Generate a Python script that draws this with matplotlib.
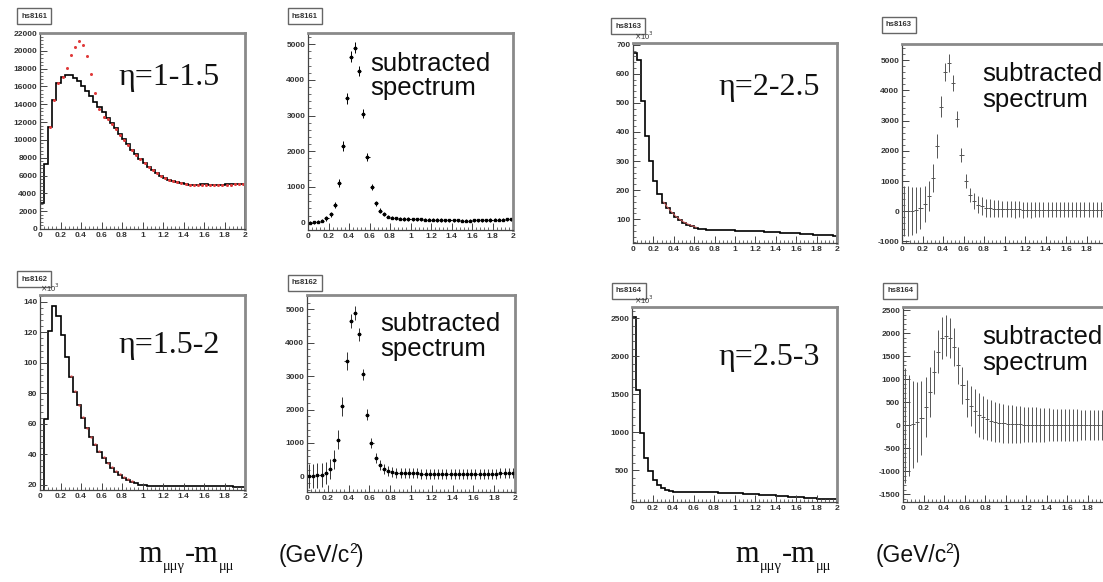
import numpy as np
import matplotlib
matplotlib.use("Agg")
import matplotlib.pyplot as plt
from matplotlib.ticker import AutoMinorLocator

nan = np.nan

# ---- binning: 50 bins of 0.04 GeV/c^2 between 0 and 2 ----
edges = np.linspace(0.0, 2.0, 51)
centers = 0.5 * (edges[:-1] + edges[1:])

# ---- eta = 1-1.5 : m(mumugamma)-m(mumu) distribution and overlaid points ----
hs8161_hist = [2900, 7300, 11400, 14500, 16400, 17100, 17300, 17300, 17000, 16600,
               16100, 15500, 14900, 14300, 13700, 13100, 12500, 11900, 11300, 10700,
               10100, 9500, 8900, 8400, 7900, 7400, 7000, 6650, 6300, 6000,
               5750, 5550, 5400, 5250, 5150, 5050, 4980, 4950, 4950, 5000,
               5000, 4950, 4900, 4900, 4950, 5000, 5000, 5050, 5100, 5100]
hs8161_red = [nan, nan, 11400, 14500, 16400, 17100, 18100, 19500, 20400, 21050,
              20700, 19400, 17350, 15300, 13500, 12600, 12300, 11800, 11200, 10600,
              10000, 9450, 8850, 8350, 7850, 7380, 6980, 6630, 6280, 5980,
              5730, 5530, 5380, 5230, 5130, 5030, 4970, 4940, 4940, 4990,
              4990, 4940, 4890, 4890, 4940, 4990, 4990, 5040, 5090, 5090]

# ---- eta = 1-1.5 : subtracted spectrum ----
sub8161 = [0, 10, 30, 60, 120, 230, 500, 1100, 2150, 3480,
           4650, 4900, 4250, 3050, 1850, 1000, 550, 340, 230, 170,
           140, 120, 110, 105, 100, 95, 90, 90, 85, 80,
           80, 75, 75, 70, 70, 65, 65, 60, 60, 60,
           65, 65, 70, 70, 75, 80, 85, 85, 90, 90]
err8161 = [40, 40, 45, 50, 60, 70, 90, 110, 130, 150,
           160, 160, 150, 130, 110, 90, 70, 60, 55, 50,
           45, 45, 45, 45, 45, 45, 45, 45, 45, 45,
           45, 45, 45, 45, 45, 45, 45, 45, 45, 45,
           45, 45, 45, 45, 45, 45, 45, 45, 45, 45]

# ---- eta = 1.5-2 (x10^3) ----
hs8162_hist = [0, 63, 121, 137, 131, 118, 104, 91, 81, 72,
               64, 57, 51, 46, 41.5, 37.5, 34, 31, 28.5, 26.5,
               24.5, 23, 21.8, 20.8, 20, 19.5, 19.2, 19, 19, 19,
               19, 19, 19.2, 19.3, 19.4, 19.4, 19.3, 19.2, 19.2, 19.2,
               19.3, 19.3, 19.2, 19, 19, 18.9, 18.8, 18.6, 18.5, 18.4]
hs8162_red = [nan, nan, nan, nan, nan, nan, nan, 91.5, 81.5, 72.5,
              64.5, 57.5, 51.5, 46.5, 42, 38, 34.5, 31.5, 29, 27,
              25, 23.5, 22.2, nan, nan, nan, nan, nan, nan, nan,
              nan, nan, nan, nan, nan, nan, nan, nan, nan, nan,
              nan, nan, nan, nan, nan, nan, nan, nan, nan, nan]

sub8162 = [0, 10, 30, 50, 100, 220, 500, 1100, 2100, 3450,
           4650, 4900, 4250, 3050, 1850, 1000, 550, 330, 220, 160,
           130, 110, 100, 95, 90, 85, 85, 80, 80, 80,
           75, 75, 75, 70, 70, 70, 70, 70, 70, 70,
           75, 75, 75, 80, 80, 80, 85, 85, 85, 85]
err8162 = [360, 360, 370, 360, 340, 310, 290, 280, 280, 260,
           220, 210, 190, 170, 160, 150, 150, 150, 150, 150,
           150, 150, 150, 150, 150, 150, 150, 150, 150, 150,
           150, 150, 150, 150, 150, 150, 150, 150, 150, 150,
           150, 150, 150, 150, 150, 150, 150, 150, 150, 150]

# ---- eta = 2-2.5 (x10^3) ----
hs8163_hist = [671, 648, 505, 385, 299, 232, 187, 157, 138, 122,
               108, 97, 88, 81, 75, 70, 67, 65, 64, 63.5,
               63, 62.5, 62, 62, 61.5, 61, 60.5, 60, 59.5, 59,
               58.5, 58, 57, 56.5, 56, 55, 54, 53, 52.5, 52,
               51, 50, 49, 48, 47, 46, 45, 44.5, 44, 43]
hs8163_red = [nan, nan, nan, nan, nan, nan, nan, 159, 140, 124,
              110, 99, 90, 83, 77, 72, nan, nan, nan, nan,
              nan, nan, nan, nan, nan, nan, nan, nan, nan, nan,
              nan, nan, nan, nan, nan, nan, nan, nan, nan, nan,
              nan, nan, nan, nan, nan, nan, nan, nan, nan, nan]

sub8163 = [0, 0, 20, 50, 100, 250, 500, 1100, 2150, 3450,
           4600, 4900, 4250, 3050, 1850, 1000, 550, 330, 220, 160,
           120, 100, 90, 80, 75, 70, 65, 60, 60, 55,
           55, 50, 50, 50, 50, 50, 50, 50, 50, 50,
           50, 50, 50, 50, 50, 55, 55, 55, 55, 55]
err8163 = [830, 820, 790, 760, 700, 600, 500, 450, 400, 350,
           300, 300, 260, 250, 230, 220, 230, 260, 290, 300,
           300, 295, 290, 285, 280, 275, 270, 268, 265, 262,
           260, 258, 255, 252, 250, 248, 246, 244, 242, 240,
           240, 240, 240, 240, 240, 240, 240, 240, 240, 240]

# ---- eta = 2.5-3 (x10^3) ----
hs8164_hist = [2515, 1560, 985, 660, 485, 375, 300, 262, 240, 226,
               218, 216, 215, 214, 213, 212, 211, 210, 209, 208,
               206, 205, 204, 202, 200, 197, 194, 190, 187, 183,
               180, 176, 173, 169, 166, 162, 158, 155, 151, 148,
               144, 140, 137, 133, 130, 126, 123, 119, 116, 113]

sub8164 = [0, 0, 20, 60, 160, 400, 720, 1150, 1600, 1900,
           1950, 1900, 1700, 1300, 870, 580, 420, 300, 220, 170,
           130, 100, 75, 55, 40, 30, 25, 20, 18, 15,
           12, 10, 10, 8, 8, 6, 6, 5, 5, 5,
           5, 5, 5, 5, 5, 5, 5, 5, 5, 5]
err8164 = [1250, 1100, 950, 870, 800, 650, 540, 480, 460, 450,
           450, 440, 420, 400, 400, 400, 430, 480, 470, 460,
           450, 440, 430, 420, 420, 410, 405, 400, 395, 390,
           385, 380, 375, 370, 365, 360, 356, 352, 348, 345,
           342, 340, 338, 336, 334, 332, 330, 330, 330, 330]

x_tick_vals = [0, 0.2, 0.4, 0.6, 0.8, 1.0, 1.2, 1.4, 1.6, 1.8, 2.0]
x_tick_text = ["0", "0.2", "0.4", "0.6", "0.8", "1", "1.2", "1.4", "1.6", "1.8", "2"]
# the right-hand pads run past the page edge, where the last label is lost
x_tick_text_cut = x_tick_text[:-1] + [""]

W, H = 1103, 582
plt.rcParams["font.family"] = ["Liberation Sans", "DejaVu Sans"]
fig = plt.figure(figsize=(W / 100, H / 100), dpi=100)
fig.patch.set_facecolor("white")


def fx(x):
    return x / W


def fy(y):
    return 1 - y / H


def frame(l, t, r, b, ylim, yticks, ylabels, xlabels=x_tick_text):
    ax = fig.add_axes([l / W, 1 - b / H, (r - l) / W, (b - t) / H])
    ax.set_xlim(0, 2)
    ax.set_ylim(*ylim)
    ax.set_xticks(x_tick_vals, xlabels, fontsize=6, fontweight="bold", color="#333333")
    ax.set_yticks(yticks, ylabels, fontsize=6, fontweight="bold", color="#333333")
    ax.xaxis.set_minor_locator(AutoMinorLocator(5))
    ax.yaxis.set_minor_locator(AutoMinorLocator(5))
    ax.tick_params(which="major", direction="in", length=5, width=0.7, pad=2,
                   top=False, right=False, color="#444444")
    ax.tick_params(which="minor", direction="in", length=2.5, width=0.6,
                   top=False, right=False, color="#555555")
    for side in ("left", "bottom"):
        ax.spines[side].set_color("#444444")
        ax.spines[side].set_linewidth(0.9)
    for side in ("top", "right"):
        ax.spines[side].set_color("#8a8a8a")
        ax.spines[side].set_linewidth(2.0)
    return ax


def name_box(x, y, s):
    fig.text(fx(x), fy(y), s, fontsize=5.5, fontweight="bold", ha="center", va="center",
             color="#333333",
             bbox=dict(boxstyle="square,pad=0.55", fc="white", ec="#666666", lw=1.0))


def multiplier(x, y):
    fig.text(fx(x), fy(y), r"$\times$10$^{3}$", fontsize=5.5, ha="left", va="baseline",
             color="#333333")


def eta_label(x, y, s):
    fig.text(fx(x), fy(y), s, family="Liberation Serif", fontsize=23,
             ha="left", va="baseline", color="#111111")


def sub_label(x, y1, y2):
    fig.text(fx(x), fy(y1), "subtracted", fontsize=18.5, ha="left", va="baseline",
             color="#0d0d0d")
    fig.text(fx(x), fy(y2), "spectrum", fontsize=18.5, ha="left", va="baseline",
             color="#0d0d0d")


def draw_hist(ax, vals):
    ax.stairs(vals, edges, color="black", lw=1.2, baseline=0)


def draw_sub(ax, vals, errs, ecol="black", marker=True):
    ax.errorbar(centers, vals, xerr=0.02, yerr=errs, fmt="none", ecolor=ecol,
                elinewidth=0.7, capsize=0)
    if marker:
        ax.plot(centers, vals, ls="none", marker="s", ms=1.6, color="black")


# ---- top-left: eta 1-1.5 ----
ax1 = frame(40, 33, 245, 229, (0, 22000), list(range(0, 22001, 2000)),
            [str(v) for v in range(0, 22001, 2000)])
draw_hist(ax1, hs8161_hist)
ax1.plot(centers, hs8161_red, ls="none", marker="o", ms=2.2, color="#e03a3a",
         markeredgewidth=0)
name_box(34, 16, "hs8161")
eta_label(118, 85, "η=1-1.5")

ax2 = frame(308, 33, 513, 230, (-205, 5310), list(range(0, 5001, 1000)),
            [str(v) for v in range(0, 5001, 1000)])
draw_sub(ax2, sub8161, err8161)
name_box(305, 16, "hs8161")
sub_label(370, 71, 95)

# ---- bottom-left: eta 1.5-2 ----
ax3 = frame(40, 295, 245, 490, (16.5, 144.5), list(range(20, 141, 20)),
            [str(v) for v in range(20, 141, 20)])
draw_hist(ax3, hs8162_hist)
ax3.plot(centers, hs8162_red, ls="none", marker="o", ms=1.8, color="#e05050",
         markeredgewidth=0, alpha=0.8)
name_box(34, 279, "hs8162")
multiplier(40, 292)
eta_label(118, 353, "η=1.5-2")

ax4 = frame(307, 295, 515, 492, (-470, 5430), list(range(0, 5001, 1000)),
            [str(v) for v in range(0, 5001, 1000)])
draw_sub(ax4, sub8162, err8162, ecol="#333333")
name_box(305, 283, "hs8162")
sub_label(380, 331, 356)

# ---- top-right: eta 2-2.5 ----
ax5 = frame(633, 43, 837, 243, (18, 706), list(range(100, 701, 100)),
            [str(v) for v in range(100, 701, 100)])
draw_hist(ax5, hs8163_hist)
ax5.plot(centers, hs8163_red, color="#e06060", lw=0.8, alpha=0.8)
name_box(628, 26, "hs8163")
multiplier(634, 40)
eta_label(718, 95, "η=2-2.5")

ax6 = frame(902, 44, 1107, 243, (-1050, 5530), list(range(-1000, 5001, 1000)),
            [str(v) for v in range(-1000, 5001, 1000)], xlabels=x_tick_text_cut)
draw_sub(ax6, sub8163, err8163, ecol="#555555", marker=False)
name_box(899, 25, "hs8163")
sub_label(982, 81, 107)

# ---- bottom-right: eta 2.5-3 ----
ax7 = frame(632, 307, 837, 502, (80, 2650), list(range(500, 2501, 500)),
            [str(v) for v in range(500, 2501, 500)])
draw_hist(ax7, hs8164_hist)
name_box(629, 291, "hs8164")
multiplier(634, 304)
eta_label(718, 365, "η=2.5-3")

ax8 = frame(903, 307, 1108, 502, (-1670, 2570), list(range(-1500, 2501, 500)),
            [str(v) for v in range(-1500, 2501, 500)], xlabels=x_tick_text_cut)
draw_sub(ax8, sub8164, err8164, ecol="#555555", marker=False)
name_box(900, 291, "hs8164")
sub_label(982, 344, 370)

# ---- common x-axis titles ----
renderer = fig.canvas.get_renderer()


def put(x, y, s, **kw):
    t = fig.text(fx(x), fy(y), s, ha="left", va="baseline", color="#111111", **kw)
    return x + t.get_window_extent(renderer).width


def axis_title(x0, xg):
    x = put(x0, 562, "m", family="Liberation Serif", fontsize=22)
    x = put(x + 1, 570, "μμγ", family="Liberation Serif", fontsize=10.5)
    x = put(x, 562, "-m", family="Liberation Serif", fontsize=22)
    put(x + 1, 570, "μμ", family="Liberation Serif", fontsize=10.5)
    x = put(xg, 562, "(GeV/c", fontsize=16.5)
    x = put(x - 1.5, 553, "2", fontsize=10)
    put(x - 0.5, 562, ")", fontsize=16.5)


axis_title(138, 279)
axis_title(735, 876)

fig.savefig("out.png", dpi=100, facecolor="white")
